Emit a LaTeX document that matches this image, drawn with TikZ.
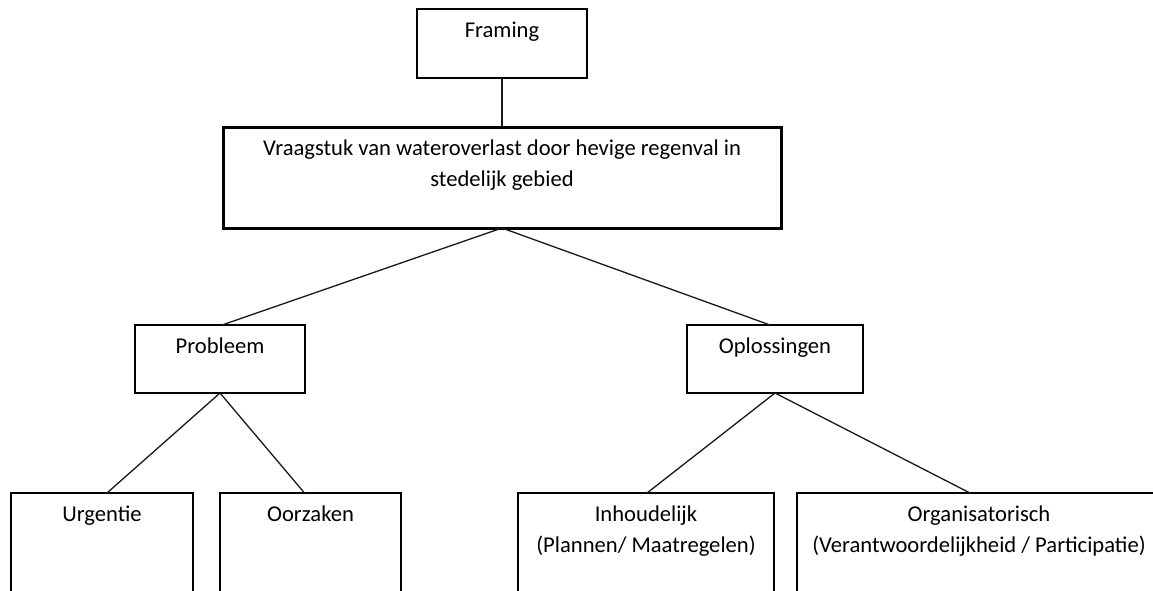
\documentclass[tikz,border=0pt]{standalone}
\usepackage{fontspec}
\setmainfont{Carlito}
\newcommand{\bxt}[3]{\parbox[c][#2][t]{#1}{\centering\rule{0pt}{28pt}#3}}
\begin{document}
\begin{tikzpicture}[x=1pt,y=-1pt,
  box/.style={draw=black, line width=1.2pt, inner sep=0pt, outer sep=0pt, anchor=north west,
    font=\fontsize{22.6}{31}\selectfont},
  mainbox/.style={box, line width=3pt},
  link/.style={draw=black!90, line width=1.3pt}]
\clip (0,0) rectangle (1153,590);
\fill[white] (0,0) rectangle (1153,590);
\node[box] (framing) at (417,9) {\bxt{170pt}{69pt}{Framing}};
\node[mainbox] (vraag) at (223,127) {\bxt{558pt}{101pt}{Vraagstuk van wateroverlast door hevige regenval in\\stedelijk gebied}};
\node[box] (probleem) at (135,325) {\bxt{170pt}{68pt}{Probleem}};
\node[box] (oplos) at (687,325) {\bxt{176pt}{68pt}{Oplossingen}};
\node[box] (urgentie) at (11,493) {\bxt{182pt}{130pt}{Urgentie}};
\node[box] (oorzaken) at (220,493) {\bxt{181pt}{130pt}{Oorzaken}};
\node[box] (inhoud) at (518,493) {\bxt{256pt}{130pt}{Inhoudelijk\\(Plannen/ Maatregelen)}};
\node[box] (organ) at (797,493) {\bxt{364pt}{130pt}{Organisatorisch\\(Verantwoordelijkheid / Participatie)}};
\draw[link] (framing.south) -- (framing.south |- vraag.north);
\draw[link] (vraag.south) -- ([xshift=2pt]probleem.north);
\draw[link] (vraag.south) -- ([xshift=-5pt]oplos.north);
\draw[link] (probleem.south) -- ([xshift=5pt]urgentie.north);
\draw[link] (probleem.south) -- ([xshift=-6pt]oorzaken.north);
\draw[link] (oplos.south) -- ([xshift=1pt]inhoud.north);
\draw[link] (oplos.south) -- ([xshift=-9pt]organ.north);
\end{tikzpicture}
\end{document}
